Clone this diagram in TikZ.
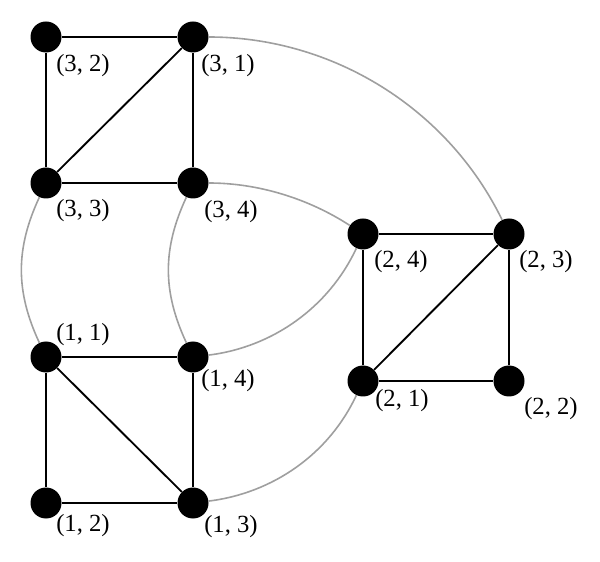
\documentclass[tikz,border=0pt]{standalone}
\usepackage{fontspec}
\setmainfont{Liberation Serif}
\begin{document}
\begin{tikzpicture}[x=0.75pt,y=0.75pt,
  vert/.style={circle,fill=black,inner sep=0pt,minimum size=23.25pt},
  lab/.style={anchor=west,inner sep=0pt,font=\fontsize{18.5}{22}\selectfont},
  edge/.style={draw=black,line width=1.4pt},
  link/.style={draw=gray!75,line width=1.2pt}]
\useasboundingbox (0,0) rectangle (600,561);
% vertices (y up: Y = 561 - y_px)
\node[vert] (v32) at (46,524) {};
\node[vert] (v31) at (193,524) {};
\node[vert] (v33) at (46,378) {};
\node[vert] (v34) at (193,378) {};
\node[vert] (v24) at (363,327) {};
\node[vert] (v23) at (509,327) {};
\node[vert] (v21) at (363,180) {};
\node[vert] (v22) at (509,180) {};
\node[vert] (v11) at (46,204) {};
\node[vert] (v14) at (193,204) {};
\node[vert] (v12) at (46,58) {};
\node[vert] (v13) at (193,58) {};
% labels
\node[lab] (l32) at (56,495) {(3, 2)};
\node[lab] (l31) at (201,495) {(3, 1)};
\node[lab] (l33) at (56,350) {(3, 3)};
\node[lab] (l34) at (204,349) {(3, 4)};
\node[lab] (l24) at (374,299) {(2, 4)};
\node[lab] (l23) at (519,299) {(2, 3)};
\node[lab] (l21) at (375,160) {(2, 1)};
\node[lab] (l22) at (524,152) {(2, 2)};
\node[lab] (l11) at (56,226) {(1, 1)};
\node[lab] (l14) at (201,180) {(1, 4)};
\node[lab] (l12) at (56,35) {(1, 2)};
\node[lab] (l13) at (204,34) {(1, 3)};
% black edges
\draw[edge] (v32) -- (v31);
\draw[edge] (v32) -- (v33);
\draw[edge] (v31) -- (v33);
\draw[edge] (v31) -- (v34);
\draw[edge] (v33) -- (v34);
\draw[edge] (v24) -- (v23);
\draw[edge] (v24) -- (v21);
\draw[edge] (v23) -- (v21);
\draw[edge] (v23) -- (v22);
\draw[edge] (v21) -- (v22);
\draw[edge] (v11) -- (v14);
\draw[edge] (v11) -- (v12);
\draw[edge] (v11) -- (v13);
\draw[edge] (v14) -- (v13);
\draw[edge] (v12) -- (v13);
% gray links
\draw[link] (v31) to[out=0,in=116,looseness=0.92] (v23);
\draw[link] (v34) to[out=0,in=147,looseness=0.86] (v24);
\draw[link] (v33) to[bend right=25] (v11);
\draw[link] (v34) to[bend right=25] (v14);
\draw[link] (v14) to[out=7,in=-115,looseness=0.91] (v24);
\draw[link] (v13) to[out=7,in=-115,looseness=0.91] (v21);
\end{tikzpicture}
\end{document}
